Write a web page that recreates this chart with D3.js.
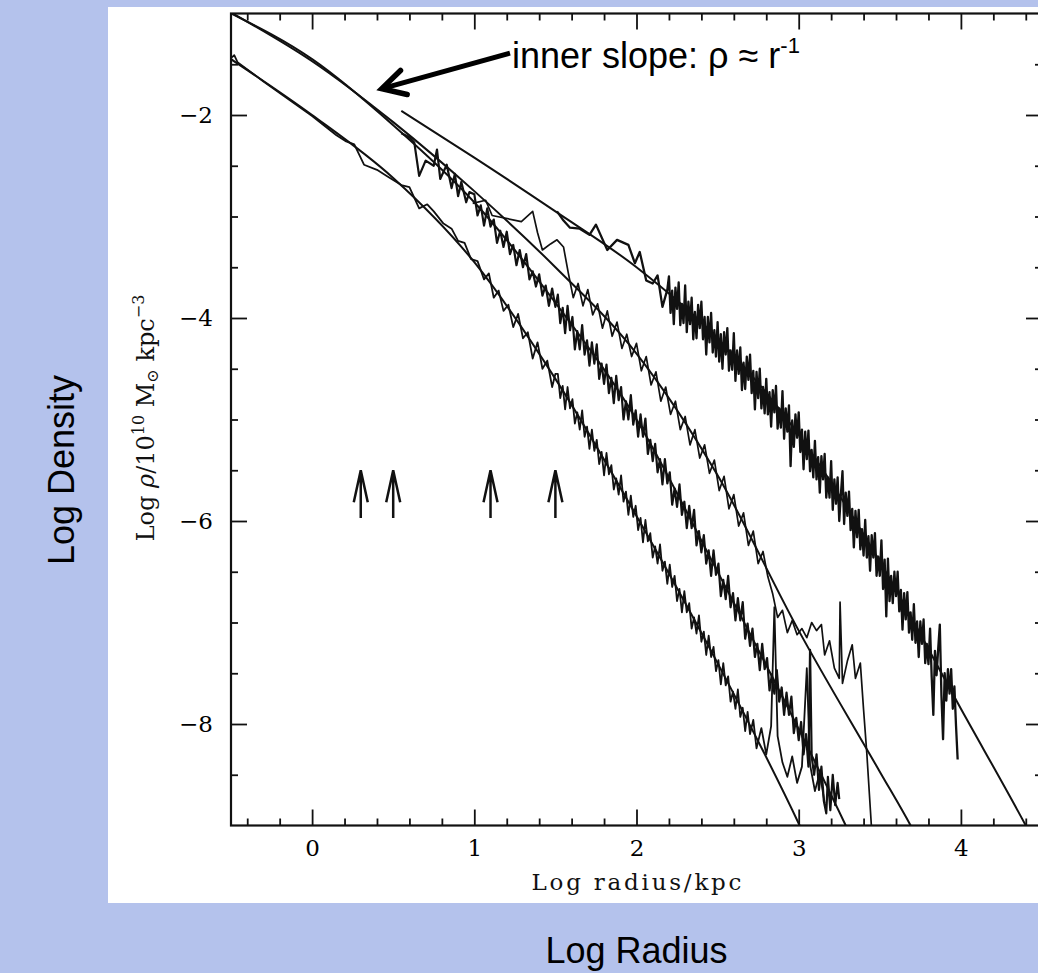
<!DOCTYPE html>
<html>
<head>
<meta charset="utf-8">
<script src="https://cdn.jsdelivr.net/npm/d3@7"></script>
<style>
  body { margin: 0; background: #b4c2ec; }
  svg { display: block; }
</style>
</head>
<body>
<div id="container"></div>
<script>
// TICKS
const xMajor = [0, 1, 2, 3, 4];
const xMinor = [-0.4, -0.2, 0.2, 0.4, 0.6, 0.8, 1.2, 1.4, 1.6, 1.8, 2.2, 2.4, 2.6, 2.8, 3.2, 3.4, 3.6, 3.8, 4.2, 4.4];
const yMajor = [-2, -4, -6, -8];
const yMinor = [-1.5, -2.5, -3, -3.5, -4.5, -5, -5.5, -6.5, -7, -7.5, -8.5];

// softening radii (log kpc) marked with arrows
const softening = [0.3, 0.5, 1.1, 1.5];

// FITTED PROFILES [log r, log rho]
const fit1 = [[-0.5,-1.45],[0,-2.0],[0.5,-2.62],[1.0,-3.45],[1.5,-4.6],[2.0,-5.95],[2.5,-7.4],[3.0,-8.98],[3.05,-9.15]];
const fit2 = [[-0.5,-1.0],[0,-1.45],[0.5,-2.1],[1.0,-2.86],[1.5,-3.85],[2.0,-5.0],[2.5,-6.5],[3.0,-8.05],[3.29,-9.0],[3.34,-9.17]];
const fit3 = [[-0.5,-0.99],[0,-1.47],[0.5,-2.07],[1.0,-2.75],[1.5,-3.5],[2.0,-4.35],[2.5,-5.55],[3.0,-7.08],[3.5,-8.47],[3.69,-9.0],[3.74,-9.15]];
const fit4 = [[0.55,-1.96],[1.0,-2.42],[1.5,-2.95],[2.0,-3.5],[2.5,-4.2],[3.0,-5.15],[3.5,-6.4],[4.0,-7.85],[4.4,-9.0],[4.45,-9.15]];

// SIMULATED HALO PROFILES [log r, log rho]
const halo1 = [[-0.5,-1.44],[-0.48,-1.41],[-0.46,-1.48],[-0.3,-1.67],[-0.15,-1.84],[0,-2.01],[0.15,-2.2],[0.21,-2.26],[0.26,-2.29],[0.32,-2.49],[0.4,-2.54],[0.46,-2.6],[0.5,-2.64],[0.55,-2.69],[0.6,-2.71],[0.66,-2.92],[0.71,-2.88],[0.75,-2.95],[0.81,-3.07],[0.86,-3.12],[0.9,-3.24],[0.94,-3.26],[0.98,-3.42],[1.02,-3.44],[1.06,-3.62],[1.09,-3.56],[1.12,-3.8],[1.15,-3.73],[1.18,-3.93],[1.21,-3.87],[1.24,-4.09],[1.27,-3.96],[1.3,-4.2],[1.33,-4.14],[1.36,-4.4],[1.39,-4.24],[1.42,-4.5],[1.45,-4.42],[1.48,-4.68],[1.5,-4.55],
  [1.515,-4.55],[1.53,-4.79],[1.545,-4.67],[1.56,-4.9],[1.575,-4.68],[1.59,-4.89],[1.605,-4.8],[1.62,-5.04],[1.635,-4.93],[1.65,-5.1],[1.665,-4.91],[1.68,-5.17],[1.695,-5.07],[1.71,-5.29],[1.725,-5.1],[1.74,-5.31],[1.755,-5.2],[1.77,-5.44],[1.785,-5.32],[1.8,-5.55],[1.815,-5.33],[1.83,-5.54],[1.845,-5.45],[1.86,-5.69],[1.875,-5.58],[1.89,-5.74],[1.905,-5.55],[1.92,-5.81],[1.935,-5.71],[1.95,-5.94],[1.965,-5.75],[1.98,-5.96],[1.995,-5.85],
  [2.01,-6.09],[2.025,-5.97],[2.04,-6.21],[2.055,-5.99],[2.07,-6.2],[2.085,-6.12],[2.1,-6.36],[2.115,-6.25],[2.13,-6.42],[2.145,-6.23],[2.16,-6.49],[2.175,-6.4],[2.19,-6.62],[2.205,-6.43],[2.22,-6.65],[2.235,-6.54],[2.25,-6.79],[2.265,-6.67],[2.28,-6.9],[2.295,-6.69],[2.31,-6.9],[2.325,-6.81],[2.34,-7.06],[2.355,-6.95],[2.37,-7.11],[2.385,-6.93],[2.4,-7.19],[2.415,-7.09],[2.43,-7.32],[2.445,-7.13],[2.46,-7.34],[2.475,-7.24],[2.49,-7.48],
  [2.505,-7.37],[2.52,-7.61],[2.535,-7.4],[2.55,-7.62],[2.565,-7.53],[2.58,-7.78],[2.595,-7.68],[2.61,-7.85],[2.625,-7.66],[2.64,-7.93],[2.655,-7.84],[2.67,-8.07],[2.685,-7.88],[2.7,-8.1],[2.72,-7.96],[2.74,-8.24],[2.77,-8.04],[2.8,-8.3],[2.83,-8.02],[2.85,-6.85],[2.87,-8.12],[2.9,-8.38],[2.93,-8.52],[2.96,-8.32],[2.99,-8.58],[3.02,-8.42],[3.05,-7.45],[3.07,-8.4],[3.1,-8.66],[3.13,-8.48],[3.16,-8.78]];

const halo2 = [[0.55,-2.18],[0.6,-2.22],[0.63,-2.27],[0.66,-2.6],[0.7,-2.45],[0.75,-2.5],[0.77,-2.34],[0.79,-2.63],[0.83,-2.49],[0.86,-2.72],[0.88,-2.58],[0.9,-2.8],[0.92,-2.66],[0.95,-2.86],[0.97,-2.76],
  [1.0,-2.78],[1.02,-2.99],[1.04,-2.89],[1.06,-3.09],[1.08,-2.92],[1.1,-3.1],[1.12,-3.03],[1.14,-3.26],[1.16,-3.14],[1.18,-3.3],[1.2,-3.15],[1.22,-3.37],[1.24,-3.28],[1.26,-3.48],[1.28,-3.33],[1.3,-3.5],[1.32,-3.37],[1.34,-3.62],[1.36,-3.54],[1.38,-3.69],[1.4,-3.57],[1.42,-3.78],[1.44,-3.68],[1.46,-3.88],[1.48,-3.71],[1.5,-3.89],
  [1.515,-3.77],[1.53,-4.05],[1.545,-3.9],[1.56,-4.15],[1.575,-3.88],[1.59,-4.12],[1.605,-3.99],[1.62,-4.31],[1.635,-4.13],[1.65,-4.31],[1.665,-4.07],[1.68,-4.36],[1.695,-4.22],[1.71,-4.47],[1.725,-4.24],[1.74,-4.45],[1.755,-4.26],[1.77,-4.6],[1.785,-4.45],[1.8,-4.65],[1.815,-4.46],[1.83,-4.74],[1.845,-4.59],[1.86,-4.84],[1.875,-4.57],[1.89,-4.81],[1.905,-4.68],[1.92,-5.0],[1.935,-4.82],[1.95,-5.0],[1.965,-4.76],[1.98,-5.05],[1.995,-4.91],
  [2.01,-5.17],[2.025,-4.95],[2.04,-5.17],[2.055,-4.99],[2.07,-5.34],[2.085,-5.2],[2.1,-5.41],[2.115,-5.24],[2.13,-5.52],[2.145,-5.39],[2.16,-5.64],[2.175,-5.39],[2.19,-5.63],[2.205,-5.52],[2.22,-5.84],[2.235,-5.68],[2.25,-5.86],[2.265,-5.64],[2.28,-5.94],[2.295,-5.81],[2.31,-6.07],[2.325,-5.85],[2.34,-6.07],[2.355,-5.89],[2.37,-6.24],[2.385,-6.1],[2.4,-6.31],[2.415,-6.14],[2.43,-6.42],[2.445,-6.29],[2.46,-6.54],[2.475,-6.29],[2.49,-6.53],
  [2.505,-6.42],[2.52,-6.74],[2.535,-6.58],[2.55,-6.77],[2.565,-6.54],[2.58,-6.85],[2.595,-6.71],[2.61,-6.98],[2.625,-6.76],[2.64,-6.98],[2.655,-6.8],[2.67,-7.16],[2.685,-7.01],[2.7,-7.23],[2.715,-7.06],[2.73,-7.34],[2.745,-7.21],[2.76,-7.47],[2.775,-7.21],[2.79,-7.46],[2.805,-7.35],[2.82,-7.67],[2.835,-7.51],[2.85,-7.7],[2.865,-7.47],[2.88,-7.78],[2.895,-7.64],[2.91,-7.91],[2.925,-7.69],[2.94,-7.91],[2.955,-7.73],[2.97,-8.09],[2.985,-7.94],[3.0,-8.16],
  [3.015,-7.98],[3.03,-8.3],[3.045,-8.1],[3.06,-8.42],[3.07,-7.27],[3.08,-8.32],[3.095,-8.5],[3.11,-8.3],[3.125,-8.65],[3.14,-8.42],[3.155,-8.76],[3.17,-8.88],[3.18,-8.52],[3.195,-8.85],[3.21,-8.5],[3.225,-8.8],[3.24,-8.58],[3.25,-8.74]];

const halo3 = [[0.99,-2.87],[1.07,-2.84],[1.11,-2.99],[1.29,-3.05],[1.36,-2.95],[1.39,-3.16],[1.42,-3.33],[1.47,-3.27],[1.51,-3.23],[1.55,-3.3],[1.58,-3.56],[1.61,-3.8],[1.64,-3.66],[1.67,-3.88],[1.7,-3.72],[1.73,-3.97],[1.76,-3.86],[1.79,-4.1],[1.82,-3.93],[1.85,-4.18],[1.88,-4.04],[1.91,-4.3],[1.94,-4.16],[1.97,-4.38],[2.0,-4.25],[2.03,-4.52],[2.06,-4.38],[2.09,-4.66],[2.12,-4.53],[2.15,-4.82],[2.18,-4.68],[2.21,-4.95],[2.24,-4.82],[2.27,-5.1],[2.3,-4.97],[2.33,-5.25],[2.36,-5.1],[2.39,-5.38],[2.42,-5.25],[2.45,-5.53],[2.48,-5.4],[2.51,-5.7],[2.54,-5.56],[2.57,-5.88],[2.6,-5.74],[2.63,-6.05],[2.66,-5.92],[2.69,-6.24],[2.72,-6.1],[2.75,-6.42],[2.78,-6.3],[2.81,-6.55],[2.84,-6.72],[2.87,-6.95],[2.9,-6.88],[2.93,-7.1],[2.96,-6.98],[2.99,-7.12],[3.02,-7.06],[3.05,-7.15],[3.08,-7.0],[3.11,-7.08],[3.14,-7.02],[3.16,-7.32],[3.19,-7.18],[3.22,-7.45],[3.25,-7.55],[3.255,-6.8],[3.27,-7.6],[3.3,-7.38],[3.33,-7.22],[3.35,-7.55],[3.38,-7.4],[3.4,-7.86],[3.42,-8.29],[3.45,-9.05]];

const halo4 = [[1.51,-2.95],[1.55,-3.04],[1.59,-3.11],[1.65,-3.12],[1.71,-3.18],[1.75,-3.08],[1.82,-3.33],[1.88,-3.23],[1.95,-3.28],[1.99,-3.46],[2.02,-3.35],[2.06,-3.63],[2.1,-3.66],[2.13,-3.58],[2.16,-3.89],[2.19,-3.72],
  [2.2,-3.59],[2.21,-3.95],[2.22,-3.73],[2.23,-4.06],[2.24,-3.7],[2.25,-3.91],[2.26,-3.65],[2.27,-4.07],[2.28,-3.86],[2.29,-4.05],[2.3,-3.68],[2.31,-4.14],[2.32,-3.84],[2.33,-4.06],[2.34,-3.8],[2.35,-4.21],[2.36,-3.94],[2.37,-4.2],[2.38,-3.87],[2.39,-4.1],[2.4,-3.84],[2.41,-4.21],[2.42,-3.99],[2.43,-4.36],[2.44,-3.99],[2.45,-4.24],[2.46,-3.95],[2.47,-4.34],[2.48,-4.12],[2.49,-4.38],
  [2.5,-4.04],[2.51,-4.43],[2.52,-4.16],[2.53,-4.5],[2.54,-4.14],[2.55,-4.36],[2.56,-4.1],[2.57,-4.52],[2.58,-4.32],[2.59,-4.51],[2.6,-4.15],[2.61,-4.62],[2.62,-4.32],[2.63,-4.55],[2.64,-4.29],[2.65,-4.71],[2.66,-4.44],[2.67,-4.7],[2.68,-4.38],[2.69,-4.61],[2.7,-4.36],[2.71,-4.74],[2.72,-4.52],[2.73,-4.9],[2.74,-4.53],[2.75,-4.79],[2.76,-4.5],[2.77,-4.89],[2.78,-4.68],[2.79,-4.94],
  [2.8,-4.6],[2.81,-4.95],[2.82,-4.73],[2.83,-5.07],[2.84,-4.71],[2.85,-4.93],[2.86,-4.67],[2.87,-5.09],[2.88,-4.89],[2.89,-5.08],[2.9,-4.72],[2.91,-5.19],[2.92,-4.89],[2.93,-5.12],[2.94,-4.86],[2.95,-5.46],[2.96,-5.01],[2.97,-5.27],[2.98,-4.95],[2.99,-5.18],
  [3.0,-4.93],[3.01,-5.32],[3.02,-5.1],[3.03,-5.49],[3.04,-5.12],[3.05,-5.39],[3.06,-5.11],[3.07,-5.51],[3.08,-5.3],[3.09,-5.57],[3.1,-5.21],[3.11,-5.59],[3.12,-5.37],[3.13,-5.72],[3.14,-5.36],[3.15,-5.59],[3.16,-5.34],[3.17,-5.77],[3.18,-5.57],[3.19,-5.77],[3.2,-5.41],[3.21,-5.89],[3.22,-5.59],[3.23,-5.83],[3.24,-5.57],[3.25,-6.0],[3.26,-5.74],[3.27,-5.51],[3.28,-6.03],[3.29,-5.72],
  [3.3,-5.95],[3.31,-5.71],[3.32,-6.09],[3.33,-5.88],[3.34,-6.26],[3.35,-5.9],[3.36,-6.16],[3.37,-5.89],[3.38,-6.28],[3.39,-6.08],[3.4,-6.34],[3.41,-5.99],[3.42,-6.36],[3.43,-6.15],[3.44,-6.49],[3.45,-6.14],[3.46,-6.36],[3.47,-6.12],[3.48,-6.54],[3.49,-6.35],
  [3.5,-6.54],[3.51,-6.19],[3.52,-6.67],[3.53,-6.38],[3.54,-6.94],[3.55,-6.37],[3.56,-6.79],[3.57,-6.54],[3.58,-6.81],[3.59,-6.5],[3.6,-6.74],[3.61,-6.5],[3.62,-6.89],[3.63,-6.68],[3.64,-7.07],[3.65,-6.71],[3.66,-6.97],[3.67,-6.7],[3.68,-7.1],[3.69,-6.9],
  [3.7,-7.17],[3.71,-6.82],[3.72,-7.2],[3.73,-6.99],[3.74,-7.34],[3.75,-6.99],[3.76,-7.21],[3.77,-6.97],[3.78,-7.4],[3.79,-7.21],[3.8,-7.41],[3.81,-7.06],[3.82,-7.54],[3.83,-7.91],[3.84,-7.28],[3.85,-7.52],[3.86,-7.26],[3.87,-7.02],[3.88,-7.72],[3.89,-8.15],
  [3.9,-7.5],[3.91,-7.77],[3.92,-7.46],[3.93,-7.7],[3.94,-7.46],[3.95,-7.85],[3.96,-7.63],[3.97,-8.02],[3.98,-8.35]];

const fits = [fit1, fit2, fit3, fit4];
const halos = [halo1, halo2, halo3, halo4];

// annotation arrow, in data units
const noteFrom = [1.22, -1.39];
const noteTo = [0.43, -1.74];

// LAYOUT
const width = 1038, height = 973;
const plot = {left: 231, right: 1042, top: 13.5, bottom: 825.5};
const haloWidth = [1.8, 2.2, 1.7, 2.3];

const svg = d3.select("#container").append("svg")
  .attr("width", width)
  .attr("height", height);

// white slide panel
svg.append("rect")
  .attr("x", 108).attr("y", 7)
  .attr("width", width - 108 + 10).attr("height", 896)
  .attr("fill", "#fff");

// SCALES
const x = d3.scaleLinear().domain([-0.5, 4.5]).range([plot.left, plot.right]);
const y = d3.scaleLinear().domain([-9, -1]).range([plot.bottom, plot.top]);

svg.append("clipPath").attr("id", "clip")
  .append("rect")
  .attr("x", plot.left).attr("y", plot.top)
  .attr("width", plot.right - plot.left).attr("height", plot.bottom - plot.top);

// AXES (ticks pointing inward)
const serif = "DejaVu Serif";
function styleAxis(g) {
  g.select(".domain").remove();
  g.selectAll("line").attr("stroke", "#111").attr("stroke-width", 1.8);
  g.attr("font-family", serif).attr("font-size", 23).attr("fill", "#111");
}

svg.append("g").attr("transform", `translate(0,${plot.bottom})`)
  .call(d3.axisBottom(x).tickValues(xMajor).tickSize(-16).tickPadding(14).tickFormat(d3.format("d")))
  .call(styleAxis);
svg.append("g").attr("transform", `translate(0,${plot.bottom})`)
  .call(d3.axisBottom(x).tickValues(xMinor).tickSize(-7).tickFormat(""))
  .call(styleAxis);
svg.append("g").attr("transform", `translate(0,${plot.top})`)
  .call(d3.axisTop(x).tickValues(xMajor).tickSize(-16).tickFormat(""))
  .call(styleAxis);
svg.append("g").attr("transform", `translate(0,${plot.top})`)
  .call(d3.axisTop(x).tickValues(xMinor).tickSize(-7).tickFormat(""))
  .call(styleAxis);

svg.append("g").attr("transform", `translate(${plot.left},0)`)
  .call(d3.axisLeft(y).tickValues(yMajor).tickSize(-16).tickPadding(18).tickFormat(d => "\u2212" + Math.abs(d)))
  .call(styleAxis);
svg.append("g").attr("transform", `translate(${plot.left},0)`)
  .call(d3.axisLeft(y).tickValues(yMinor).tickSize(-7).tickFormat(""))
  .call(styleAxis);
svg.append("g").attr("transform", `translate(${plot.right},0)`)
  .call(d3.axisRight(y).tickValues(yMajor).tickSize(-16).tickFormat(""))
  .call(styleAxis);
svg.append("g").attr("transform", `translate(${plot.right},0)`)
  .call(d3.axisRight(y).tickValues(yMinor).tickSize(-7).tickFormat(""))
  .call(styleAxis);

// frame
svg.append("rect")
  .attr("x", plot.left).attr("y", plot.top)
  .attr("width", plot.right - plot.left).attr("height", plot.bottom - plot.top)
  .attr("fill", "none").attr("stroke", "#111").attr("stroke-width", 2.2);

// CURVES
const line = d3.line().x(d => x(d[0])).y(d => y(d[1]));
const smooth = d3.line().x(d => x(d[0])).y(d => y(d[1])).curve(d3.curveMonotoneX);

const curves = svg.append("g").attr("clip-path", "url(#clip)");

curves.selectAll("path.fit")
  .data(fits)
  .join("path")
  .attr("class", "fit")
  .attr("d", smooth)
  .attr("fill", "none")
  .attr("stroke", "#111")
  .attr("stroke-width", 2);

curves.selectAll("path.halo")
  .data(halos)
  .join("path")
  .attr("class", "halo")
  .attr("d", line)
  .attr("fill", "none")
  .attr("stroke", "#111")
  .attr("stroke-width", (d, i) => haloWidth[i])
  .attr("stroke-linejoin", "round");

// softening arrows
const tipY = -5.5, tailY = -5.97;
svg.selectAll("path.soft")
  .data(softening)
  .join("path")
  .attr("class", "soft")
  .attr("d", d => {
    const px = x(d), ty = y(tipY), by = y(tailY);
    return `M${px - 7},${ty + 32} L${px},${ty} L${px + 7},${ty + 32} M${px},${ty} L${px},${by}`;
  })
  .attr("fill", "none")
  .attr("stroke", "#111")
  .attr("stroke-width", 2.5);

// AXIS TITLES (serif, from the scanned figure)
svg.append("text")
  .attr("x", x(2)).attr("y", 890)
  .attr("text-anchor", "middle")
  .attr("font-family", serif).attr("font-size", 23)
  .attr("textLength", 210).attr("lengthAdjust", "spacing")
  .attr("fill", "#111")
  .text("Log radius/kpc");

const ylab = svg.append("text")
  .attr("transform", `translate(154,418) rotate(-90)`)
  .attr("text-anchor", "middle")
  .attr("font-family", serif).attr("font-size", 24)
  .attr("fill", "#111");
ylab.append("tspan").text("Log  ");
ylab.append("tspan").attr("font-style", "italic").text("ρ");
ylab.append("tspan").text("/10");
ylab.append("tspan").attr("font-size", 16).attr("dy", -10).text("10");
ylab.append("tspan").attr("dy", 10).text("  M");
ylab.append("tspan").attr("font-size", 16).attr("dy", 4).text("⊙");
ylab.append("tspan").attr("dy", -4).text("  kpc");
ylab.append("tspan").attr("font-size", 16).attr("dy", -10).text("−3");

// ANNOTATION
const sans = "Liberation Sans, Arial, sans-serif";
const a0 = [x(noteTo[0]), y(noteTo[1])], a1 = [x(noteFrom[0]), y(noteFrom[1])];
const ang = Math.atan2(a1[1] - a0[1], a1[0] - a0[0]);
const barb = (s) => [a0[0] + 26 * Math.cos(ang + s), a0[1] + 26 * Math.sin(ang + s)];
svg.append("path")
  .attr("d", `M${a1[0]},${a1[1]} L${a0[0] + 4 * Math.cos(ang)},${a0[1] + 4 * Math.sin(ang)}`)
  .attr("stroke", "#000").attr("stroke-width", 5).attr("fill", "none");
svg.append("path")
  .attr("d", `M${barb(0.5)} L${a0} L${barb(-0.5)}`)
  .attr("stroke", "#000").attr("stroke-width", 5.5).attr("fill", "none")
  .attr("stroke-linejoin", "miter").attr("stroke-linecap", "round");

const note = svg.append("text")
  .attr("x", a1[0] + 2).attr("y", 68)
  .attr("font-family", sans).attr("font-size", 36)
  .attr("fill", "#000");
note.append("tspan").text("inner slope: ρ ≈ r");
note.append("tspan").attr("font-size", 22).attr("dy", -15).text("-1");

// SLIDE LABELS
svg.append("text")
  .attr("x", x(2)).attr("y", 963)
  .attr("text-anchor", "middle")
  .attr("font-family", sans).attr("font-size", 36)
  .attr("fill", "#000")
  .text("Log Radius");

svg.append("text")
  .attr("transform", `translate(74,470) rotate(-90)`)
  .attr("text-anchor", "middle")
  .attr("font-family", sans).attr("font-size", 36)
  .attr("fill", "#000")
  .text("Log Density");
</script>
</body>
</html>
